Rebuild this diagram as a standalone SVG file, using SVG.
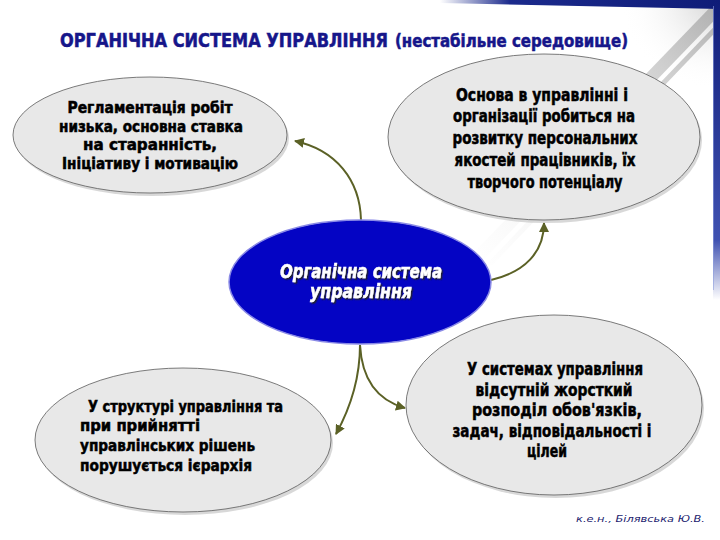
<svg xmlns="http://www.w3.org/2000/svg" width="720" height="540" viewBox="0 0 720 540">
  <style>
    .t { font-family: "Liberation Sans Narrow", "DejaVu Sans Condensed", "Liberation Sans", sans-serif; font-weight: bold; fill: #000; stroke: #000; stroke-width: 0.5; text-anchor: middle; }
    .tl { text-anchor: start; }
    .node { fill: #e8e8e8; stroke: #5a5a5a; stroke-width: 0.8; }
    .shadow { fill: #c8c8c8; opacity: 0.7; }
    .title { font-family: "Liberation Sans Narrow", "DejaVu Sans Condensed", "Liberation Sans", sans-serif; font-weight: bold; fill: #16168a; stroke: #16168a; stroke-width: 0.5; }
    .ctext { font-family: "Liberation Sans Narrow", "DejaVu Sans Condensed", "Liberation Sans", sans-serif; font-weight: bold; font-style: italic; font-size: 19px; text-anchor: middle; fill: #ffffff; stroke: #ffffff; stroke-width: 0.4; }
    .conn { fill: none; stroke: #5b6126; stroke-width: 2; }
  </style>
  <defs>
    <marker id="arr" viewBox="0 0 10 10" refX="9" refY="5" markerWidth="5" markerHeight="5" orient="auto" markerUnits="strokeWidth">
      <path d="M0,0 L10,5 L0,10 z" fill="#5b6126"/>
    </marker>
    <filter id="tshadow" x="-10%" y="-30%" width="130%" height="160%">
      <feDropShadow dx="1.5" dy="1.5" stdDeviation="0.4" flood-color="#202020" flood-opacity="0.9"/>
    </filter>
    <linearGradient id="topBand" x1="0" y1="0" x2="1" y2="0">
      <stop offset="0" stop-color="#1b2a8c" stop-opacity="0"/>
      <stop offset="0.25" stop-color="#1b2a8c" stop-opacity="1"/>
      <stop offset="1" stop-color="#0f1c78"/>
    </linearGradient>
    <linearGradient id="rightBand" x1="0" y1="0" x2="0" y2="1">
      <stop offset="0" stop-color="#0f1c78"/>
      <stop offset="0.8" stop-color="#2a3ea8" stop-opacity="0.9"/>
      <stop offset="1" stop-color="#2a3ea8" stop-opacity="0"/>
    </linearGradient>
    <linearGradient id="stripe" gradientUnits="userSpaceOnUse" x1="716" y1="10" x2="470" y2="265">
      <stop offset="0" stop-color="#b0b0b0" stop-opacity="0.95"/>
      <stop offset="0.35" stop-color="#cacaca" stop-opacity="0.65"/>
      <stop offset="1" stop-color="#e8e8e8" stop-opacity="0"/>
    </linearGradient>
    <radialGradient id="corner" cx="1" cy="0" r="1">
      <stop offset="0" stop-color="#d0d0d0"/>
      <stop offset="1" stop-color="#ffffff" stop-opacity="0"/>
    </radialGradient>
  </defs>

  <rect x="0" y="0" width="720" height="540" fill="#ffffff"/>

  <!-- slide frame decoration -->
  <g id="frame">
    <rect x="620" y="0" width="100" height="90" fill="url(#corner)"/>
    <line x1="716" y1="10" x2="470" y2="265" stroke="url(#stripe)" stroke-width="12"/>
    <line x1="720" y1="24" x2="490" y2="264" stroke="url(#stripe)" stroke-width="5"/>
    <polygon points="440,0 720,0 720,9 440,3" fill="url(#topBand)"/>
    <rect x="713" y="0" width="7" height="300" fill="url(#rightBand)"/>
    <line x1="713.5" y1="6" x2="713.5" y2="290" stroke="#8fa0e0" stroke-width="1" opacity="0.6"/>
  </g>

  <g id="title">
    <text class="title" x="60" y="47" font-size="19" textLength="328" lengthAdjust="spacingAndGlyphs">ОРГАНІЧНА СИСТЕМА УПРАВЛІННЯ</text>
    <text class="title" x="395" y="47" font-size="17" textLength="233" lengthAdjust="spacingAndGlyphs">(нестабільне середовище)</text>
  </g>

  <g id="connectors">
    <path class="conn" d="M361,220 C360,180 336,150 295,141" marker-end="url(#arr)"/>
    <path class="conn" d="M491,280 C525,272 544,252 544,223" marker-end="url(#arr)"/>
    <path class="conn" d="M360,345 C362,382 380,401 405,408" marker-end="url(#arr)"/>
    <path class="conn" d="M360,345 C360,385 347,414 336,434" marker-end="url(#arr)"/>
  </g>

  <g id="node-regulation">
    <ellipse class="shadow" cx="152" cy="138" rx="137" ry="58"/>
    <ellipse class="node" cx="150" cy="135" rx="137" ry="58"/>
    <text class="t" x="150" y="113" font-size="15.5" textLength="165" lengthAdjust="spacingAndGlyphs">Регламентація робіт</text>
    <text class="t" x="151" y="132" font-size="15.5" textLength="184" lengthAdjust="spacingAndGlyphs">низька, основна ставка</text>
    <text class="t" x="150" y="150" font-size="15.5" textLength="134" lengthAdjust="spacingAndGlyphs">на старанність,</text>
    <text class="t" x="150" y="169" font-size="15.5" textLength="176" lengthAdjust="spacingAndGlyphs">Ініціативу і мотивацію</text>
  </g>

  <g id="node-personnel">
    <ellipse class="shadow" cx="546" cy="140" rx="156" ry="83"/>
    <ellipse class="node" cx="544" cy="137" rx="156" ry="83"/>
    <text class="t" x="542" y="101" font-size="17" textLength="172" lengthAdjust="spacingAndGlyphs">Основа в управлінні і</text>
    <text class="t" x="544" y="122" font-size="17" textLength="182" lengthAdjust="spacingAndGlyphs">організації робиться на</text>
    <text class="t" x="545" y="144" font-size="17" textLength="185" lengthAdjust="spacingAndGlyphs">розвитку персональних</text>
    <text class="t" x="545" y="166" font-size="17" textLength="181" lengthAdjust="spacingAndGlyphs">якостей працівників, їх</text>
    <text class="t" x="545" y="188" font-size="17" textLength="155" lengthAdjust="spacingAndGlyphs">творчого потенціалу</text>
  </g>

  <g id="node-center">
    <ellipse cx="360" cy="282" rx="131" ry="62" fill="#0404c4" stroke="#8a8ae6" stroke-width="1.5"/>
    <g filter="url(#tshadow)">
      <text class="ctext" x="361" y="278" textLength="162" lengthAdjust="spacingAndGlyphs">Органічна система</text>
      <text class="ctext" x="361" y="298" textLength="102" lengthAdjust="spacingAndGlyphs">управління</text>
    </g>
  </g>

  <g id="node-hierarchy">
    <ellipse class="shadow" cx="185" cy="443" rx="148" ry="72"/>
    <ellipse class="node" cx="183" cy="440" rx="148" ry="72"/>
    <text class="t tl" x="88" y="412" font-size="16" textLength="195" lengthAdjust="spacingAndGlyphs">У структурі управління та</text>
    <text class="t tl" x="80" y="431" font-size="16" textLength="120" lengthAdjust="spacingAndGlyphs">при прийнятті</text>
    <text class="t tl" x="80" y="451" font-size="16" textLength="175" lengthAdjust="spacingAndGlyphs">управлінських рішень</text>
    <text class="t tl" x="80" y="471" font-size="16" textLength="172" lengthAdjust="spacingAndGlyphs">порушується ієрархія</text>
  </g>

  <g id="node-duties">
    <ellipse class="shadow" cx="556" cy="408" rx="148" ry="90"/>
    <ellipse class="node" cx="554" cy="405" rx="148" ry="90"/>
    <text class="t" x="555" y="375" font-size="18" textLength="176" lengthAdjust="spacingAndGlyphs">У системах управління</text>
    <text class="t" x="554" y="396" font-size="18" textLength="157" lengthAdjust="spacingAndGlyphs">відсутній  жорсткий</text>
    <text class="t" x="557" y="416" font-size="18" textLength="170" lengthAdjust="spacingAndGlyphs">розподіл обов'язків,</text>
    <text class="t" x="552" y="437" font-size="18" textLength="199" lengthAdjust="spacingAndGlyphs">задач, відповідальності і</text>
    <text class="t" x="547" y="457" font-size="18" textLength="40" lengthAdjust="spacingAndGlyphs">цілей</text>
  </g>

  <g id="footer">
    <text x="705" y="522" font-family="'DejaVu Sans', 'Liberation Sans', sans-serif" font-style="italic" font-size="9.5" fill="#1a1a6e" text-anchor="end" textLength="129" lengthAdjust="spacingAndGlyphs">к.е.н., Білявська Ю.В.</text>
  </g>
</svg>
